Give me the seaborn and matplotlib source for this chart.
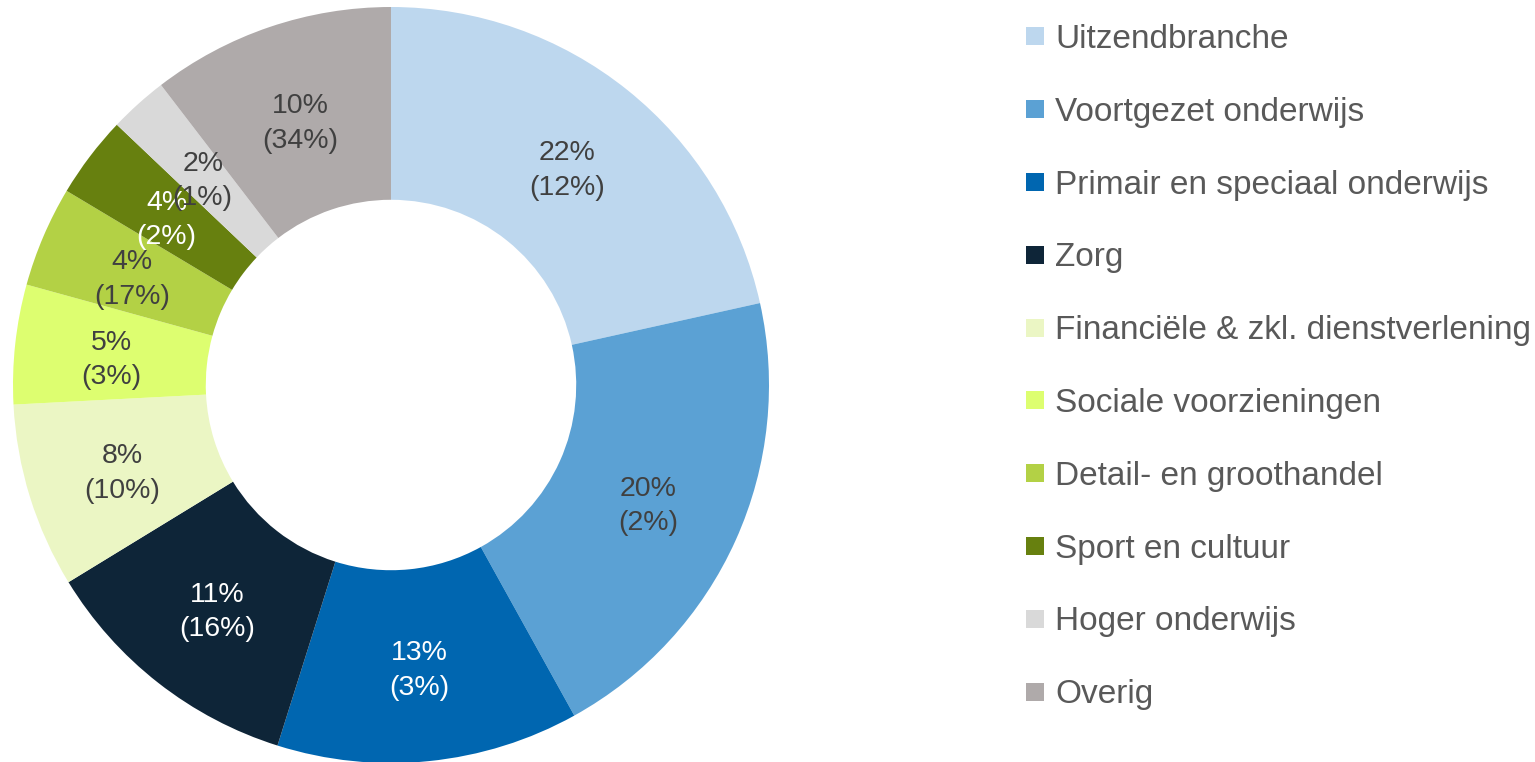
import matplotlib
matplotlib.use("Agg")
import matplotlib.pyplot as plt
from matplotlib.lines import Line2D
import numpy as np
import seaborn as sns

categories = ["Uitzendbranche", "Voortgezet onderwijs", "Primair en speciaal onderwijs",
              "Zorg", "Financiële & zkl. dienstverlening", "Sociale voorzieningen",
              "Detail- en groothandel", "Sport en cultuur", "Hoger onderwijs", "Overig"]
shares = [21.5, 20.4, 12.9, 11.4, 7.9, 5.1, 4.3, 3.5, 2.5, 10.4]
share_labels = ["22%", "20%", "13%", "11%", "8%", "5%", "4%", "4%", "2%", "10%"]
other_labels = ["(12%)", "(2%)", "(3%)", "(16%)", "(10%)", "(3%)", "(17%)", "(2%)", "(1%)", "(34%)"]
colors = ["#BDD7EE", "#5BA1D4", "#0066B0", "#0E2538", "#EBF6C4",
          "#DDFE70", "#B3D145", "#67800F", "#D9D9D9", "#AFAAAA"]
label_colors = ["#404040", "#404040", "white", "white", "#404040",
                "#404040", "#404040", "white", "#404040", "#404040"]

sns.set_theme(style="white")
plt.rcParams['font.family'] = ['Liberation Sans', 'DejaVu Sans']
palette = sns.color_palette(colors)

W, H = 1535, 762
fig = plt.figure(figsize=(W / 100, H / 100), dpi=100)
cx, cy, R = 391, 385, 378
ax = fig.add_axes([(cx - R) / W, (H - cy - R) / H, 2 * R / W, 2 * R / H])

inner = 0.49
wedges, _ = ax.pie(shares, colors=palette, startangle=90, counterclock=False,
                   radius=1, wedgeprops=dict(width=1 - inner, linewidth=0))
ax.set_xlim(-1, 1)
ax.set_ylim(-1, 1)
ax.axis("off")

rmid = (1 + inner) / 2
for w, a, b, tc in zip(wedges, share_labels, other_labels, label_colors):
    ang = np.deg2rad((w.theta1 + w.theta2) / 2)
    ax.text(rmid * np.cos(ang), rmid * np.sin(ang) - 0.014, f"{a}\n{b}", ha="center", va="center",
            fontsize=20.5, color=tc, linespacing=1.42)

handles = [Line2D([0], [0], marker="s", linestyle="none", markersize=13.5,
                  markerfacecolor=c, markeredgewidth=0) for c in palette]
leg = fig.legend(handles, categories, loc="upper left",
                 bbox_to_anchor=(1018.5 / W, 1 - 24 / H), frameon=False,
                 fontsize=24, labelspacing=1.254, handletextpad=0.1,
                 handlelength=1.0, borderpad=0, borderaxespad=0)
for t in leg.get_texts():
    t.set_color("#595959")

fig.savefig("out.png", dpi=100)
